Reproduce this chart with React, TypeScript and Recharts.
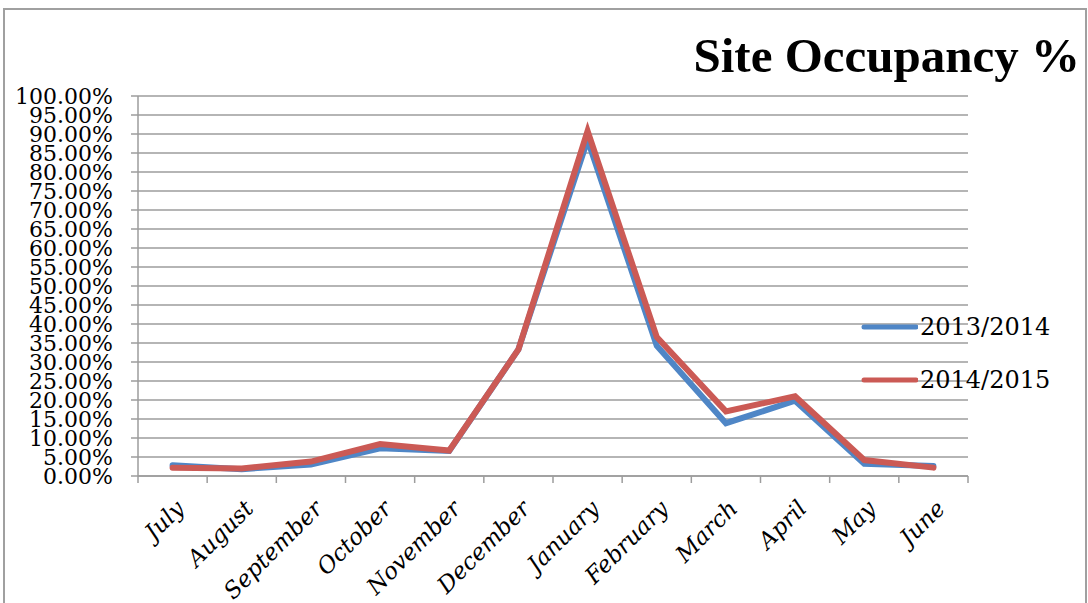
import { LineChart, Line, XAxis, YAxis, CartesianGrid } from "recharts";

const months = [
  "July",
  "August",
  "September",
  "October",
  "November",
  "December",
  "January",
  "February",
  "March",
  "April",
  "May",
  "June",
];

// occupancy in percent
const season1314 = [2.8, 1.8, 3.0, 7.3, 6.6, 33.3, 88.5, 34.3, 13.9, 19.8, 3.2, 2.6];
const season1415 = [2.2, 2.0, 3.8, 8.4, 6.7, 33.3, 90.8, 36.6, 17.0, 21.0, 4.2, 2.2];

const seriesNames = ["2013/2014", "2014/2015"];

const yTicks = [0, 5, 10, 15, 20, 25, 30, 35, 40, 45, 50, 55, 60, 65, 70, 75, 80, 85, 90, 95, 100];
const monthTicks = [0, 1, 2, 3, 4, 5, 6, 7, 8, 9, 10, 11];
const bandEdges = [-0.5, 0.5, 1.5, 2.5, 3.5, 4.5, 5.5, 6.5, 7.5, 8.5, 9.5, 10.5, 11.5];

const data = months.map((m, i) => ({
  idx: i,
  month: m,
  s1314: season1314[i],
  s1415: season1415[i],
}));

const GRID = "#9d9d9d";
const BLUE = "#4f86c6";
const RED = "#cb5a55";
const seriesColors = [BLUE, RED];

const MonthTick = ({ x, y, payload }: any) => {
  const tx = x + 13;
  const ty = y + 33;
  return (
    <text
      x={tx}
      y={ty}
      transform={`rotate(-45 ${tx} ${ty})`}
      textAnchor="end"
      fontFamily="DejaVu Serif"
      fontStyle="italic"
      fontSize={23}
      fill="#000"
    >
      {months[payload.value]}
    </text>
  );
};

const ChartLegend = () => (
  <div style={{ position: "absolute", left: 860, top: 300 }}>
    {seriesNames.map((name, i) => (
      <div
        key={`item-${i}`}
        style={{ display: "flex", alignItems: "center", height: 53 }}
      >
        <svg width={58} height={10}>
          <line
            x1={4}
            y1={5}
            x2={56}
            y2={5}
            stroke={seriesColors[i]}
            strokeWidth={5}
            strokeLinecap="round"
          />
        </svg>
        <span
          style={{
            fontFamily: "DejaVu Serif",
            fontSize: 24,
            color: "#000",
            marginLeft: 2,
          }}
        >
          {name}
        </span>
      </div>
    ))}
  </div>
);

const App = () => {
  return (
    <div style={{ position: "absolute", left: 0, top: 0, width: 1088, height: 603, background: "#fff", overflow: "hidden" }}>
      <div
        style={{
          position: "absolute",
          left: 3,
          top: 8,
          width: 1080,
          height: 620,
          border: "2px solid #a0a0a0",
        }}
      />
      <div
        style={{
          position: "absolute",
          right: 8,
          top: 26,
          fontFamily: "Liberation Serif",
          fontWeight: "bold",
          fontSize: 49,
          lineHeight: "60px",
          color: "#000",
        }}
      >
        Site Occupancy %
      </div>
      <div style={{ position: "absolute", left: 0, top: 0 }}>
        <LineChart
          width={1088}
          height={603}
          data={data}
          margin={{ top: 96, right: 120, left: 0, bottom: 0 }}
        >
          <CartesianGrid horizontal vertical={false} stroke={GRID} strokeWidth={1.5} />
          <XAxis
            xAxisId="edges"
            type="number"
            dataKey="idx"
            domain={[-0.5, 11.5]}
            ticks={bandEdges}
            tick={() => <g />}
            tickSize={7}
            height={1}
            axisLine={{ stroke: GRID, strokeWidth: 1.5 }}
            tickLine={{ stroke: GRID, strokeWidth: 1.5 }}
          />
          <XAxis
            xAxisId="months"
            type="number"
            dataKey="idx"
            domain={[-0.5, 11.5]}
            ticks={monthTicks}
            interval={0}
            tick={<MonthTick />}
            tickSize={0}
            tickMargin={0}
            tickLine={false}
            axisLine={false}
            height={126}
          />
          <YAxis
            type="number"
            domain={[0, 100]}
            ticks={yTicks}
            interval={0}
            width={138}
            tickSize={7}
            tickMargin={18}
            tickFormatter={(v: number) => `${v.toFixed(2)}%`}
            tick={{ fontFamily: "DejaVu Serif", fontSize: 22, fill: "#000" }}
            axisLine={{ stroke: GRID, strokeWidth: 1.5 }}
            tickLine={{ stroke: GRID, strokeWidth: 1.5 }}
          />
          <Line
            xAxisId="months"
            type="linear"
            dataKey="s1314"
            name={seriesNames[0]}
            stroke={BLUE}
            strokeWidth={6}
            strokeLinecap="round"
            dot={false}
            activeDot={false}
            isAnimationActive={false}
          />
          <Line
            xAxisId="months"
            type="linear"
            dataKey="s1415"
            name={seriesNames[1]}
            stroke={RED}
            strokeWidth={6}
            strokeLinecap="round"
            dot={false}
            activeDot={false}
            isAnimationActive={false}
          />
        </LineChart>
      </div>
      <ChartLegend />
    </div>
  );
};

export default App;
